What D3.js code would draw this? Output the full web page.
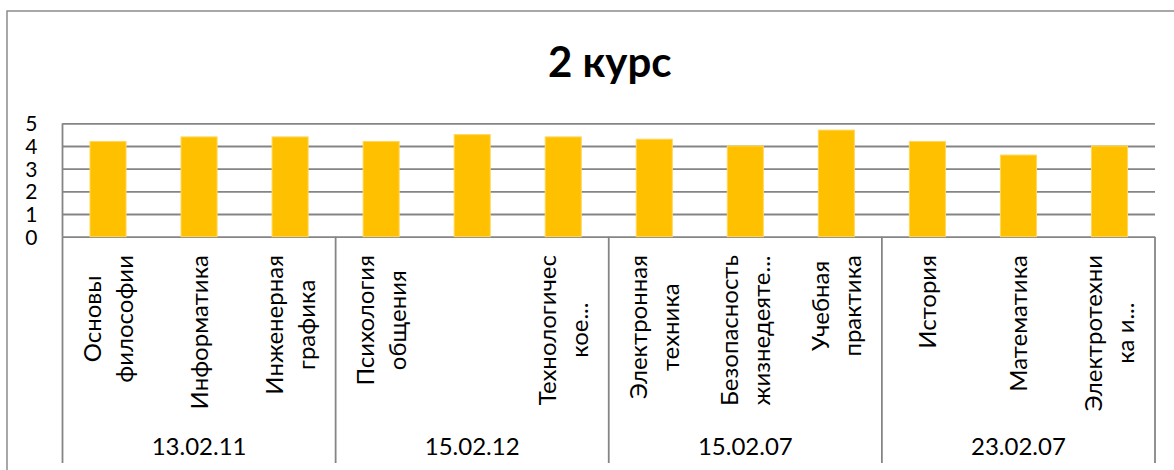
<!DOCTYPE html>
<html>
<head>
<meta charset="utf-8">
<script src="https://cdn.jsdelivr.net/npm/d3@7"></script>
<style>
  html, body { margin: 0; padding: 0; background: #fff; }
  svg { display: block; }
  text { font-family: Lato, "Open Sans", sans-serif; fill: #000; }
</style>
</head>
<body>
<svg id="chart" width="1174" height="470"></svg>
<script>
// ---- data ----
const title = "2 курс";
const groups = ["13.02.11", "15.02.12", "15.02.07", "23.02.07"];
const categories = [
  "Основы\nфилософии",
  "Информатика",
  "Инженерная\nграфика",
  "Психология\nобщения",
  "",
  "Технологичес\nкое...",
  "Электронная\nтехника",
  "Безопасность\nжизнедеяте...",
  "Учебная\nпрактика",
  "История",
  "Математика",
  "Электротехни\nка и..."
];
const categoryGroup = [0, 0, 0, 1, 1, 1, 2, 2, 2, 3, 3, 3];
const values = [4.2, 4.4, 4.4, 4.2, 4.5, 4.4, 4.3, 4.0, 4.7, 4.2, 3.6, 4.0];
const yTicks = [0, 1, 2, 3, 4, 5];

// ---- layout ----
const plot = { left: 62.5, right: 1155, top: 123.3, bottom: 236.7 };
const gridColor = "#858585";

const svg = d3.select("#chart");

// outer chart border
svg.append("rect")
  .attr("x", 7).attr("y", 11)
  .attr("width", 1300).attr("height", 600)
  .attr("fill", "none").attr("stroke", "#8c8c8c").attr("stroke-width", 1.5);

const x = d3.scaleBand()
  .domain(d3.range(categories.length))
  .range([plot.left, plot.right])
  .paddingInner(0.604)
  .paddingOuter(0.302);

const y = d3.scaleLinear().domain([0, 5]).range([plot.bottom, plot.top]);

// gridlines
const grid = svg.append("g")
  .attr("transform", `translate(${plot.left},0)`)
  .call(d3.axisLeft(y).tickValues(yTicks).tickSize(-(plot.right - plot.left)).tickFormat(""));
grid.select(".domain").remove();
grid.selectAll(".tick line").attr("stroke", gridColor).attr("stroke-width", 1.8);

// y tick labels
const yAxis = svg.append("g")
  .attr("transform", `translate(${plot.left},0)`)
  .call(d3.axisLeft(y).tickValues(yTicks).tickSize(0).tickPadding(25).tickFormat(d3.format("d")));
yAxis.select(".domain").remove();
yAxis.selectAll(".tick text")
  .attr("font-family", "Lato, sans-serif")
  .attr("font-size", 21)
  .attr("fill", "#000")
  .attr("dy", "0.36em");

// vertical axis line
svg.append("line")
  .attr("x1", plot.left).attr("x2", plot.left)
  .attr("y1", plot.top).attr("y2", plot.bottom)
  .attr("stroke", gridColor).attr("stroke-width", 1.8);

// bars
svg.append("g").selectAll("rect")
  .data(values)
  .join("rect")
  .attr("x", (d, i) => x(i))
  .attr("width", x.bandwidth())
  .attr("y", d => y(d))
  .attr("height", d => y(0) - y(d))
  .attr("fill", "#FFC000")
  .attr("stroke", "#FFD75A")
  .attr("stroke-width", 1);

// group dividers
const groupBounds = [];
groups.forEach((g, gi) => {
  const idx = categoryGroup.map((c, i) => c === gi ? i : -1).filter(i => i >= 0);
  const first = idx[0], last = idx[idx.length - 1];
  const x0 = x(first) - x.step() * x.paddingInner() / 2;
  const x1 = x(last) + x.bandwidth() + x.step() * x.paddingInner() / 2;
  groupBounds.push([x0, x1]);
});
const dividerXs = [groupBounds[0][0], ...groupBounds.map(b => b[1])];
svg.append("g").selectAll("line")
  .data(dividerXs)
  .join("line")
  .attr("x1", d => d).attr("x2", d => d)
  .attr("y1", plot.bottom).attr("y2", 463)
  .attr("stroke", gridColor).attr("stroke-width", 1.8);

// category labels (rotated, top-aligned block, lines centered)
const catFont = 24;
const lineH = 32;
const capH = catFont * 0.72;
const labelTop = 255;
const catG = svg.append("g");
categories.forEach((label, i) => {
  if (!label) return;
  const lines = label.split("\n");
  const cx = x(i) + x.bandwidth() / 2;
  const n = lines.length;
  const texts = lines.map((ln, li) => {
    const bx = cx + capH / 2 + (li - (n - 1) / 2) * lineH;
    return catG.append("text")
      .attr("font-size", catFont)
      .attr("text-anchor", "middle")
      .attr("data-bx", bx)
      .text(ln);
  });
  const maxLen = d3.max(texts, t => t.node().getComputedTextLength());
  const cy = labelTop + maxLen / 2;
  texts.forEach(t => {
    const bx = +t.attr("data-bx");
    t.attr("transform", `translate(${bx},${cy}) rotate(-90)`);
  });
});

// group labels
svg.append("g").selectAll("text")
  .data(groups)
  .join("text")
  .attr("x", (d, i) => (groupBounds[i][0] + groupBounds[i][1]) / 2)
  .attr("y", 455)
  .attr("text-anchor", "middle")
  .attr("font-size", 24)
  .text(d => d);

// title
svg.append("text")
  .attr("x", (plot.left + plot.right) / 2 + 1)
  .attr("y", 77)
  .attr("text-anchor", "middle")
  .attr("font-size", 42)
  .attr("font-weight", "bold")
  .text(title);
</script>
</body>
</html>
